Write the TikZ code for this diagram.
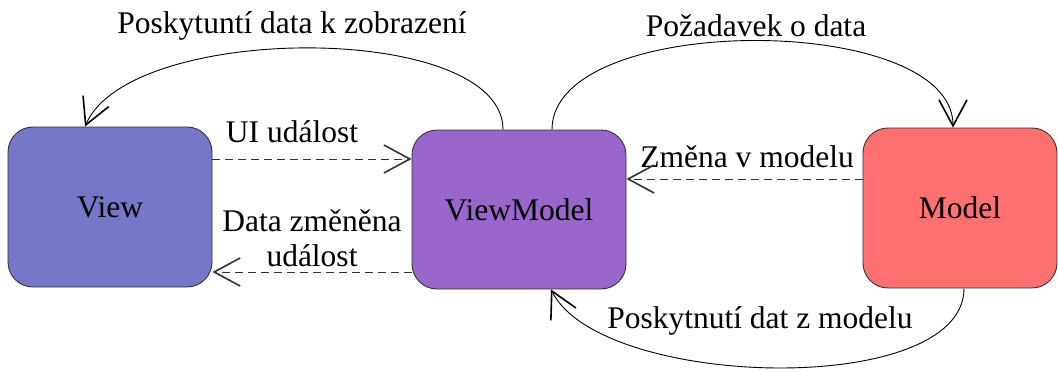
\documentclass[tikz,border=0pt]{standalone}
\usepackage{fontspec}
\setmainfont{Liberation Serif}
\usetikzlibrary{arrows.meta}
\definecolor{viewc}{HTML}{7777C9}
\definecolor{vmc}{HTML}{9966CC}
\definecolor{modelc}{HTML}{FF7171}
\definecolor{edgec}{HTML}{333333}
\begin{document}
\begin{tikzpicture}[x=1pt,y=-1pt,
  box/.style={draw=edgec, line width=0.9pt, rounded corners=25pt, inner sep=0pt,
    font=\fontsize{31.5}{38}\selectfont},
  lbl/.style={inner sep=0pt, font=\fontsize{31.5}{35}\selectfont},
  tip/.style={-{Straight Barb[length=26pt,width=28pt,line width=1.6pt]}},
  curve/.style={tip, line width=0.9pt, black},
  dline/.style={tip, line width=0.9pt, edgec, dash pattern=on 8pt off 5pt}]
\useasboundingbox (0,0) rectangle (1058,372);
\node[box, fill=viewc, minimum width=204pt, minimum height=160pt] (view) at (110,207) {View};
\node[box, fill=vmc, minimum width=214pt, minimum height=159pt] (vm) at (519,209.5) {ViewModel};
\node[box, fill=modelc, minimum width=194pt, minimum height=160pt] (model) at (960,208) {Model};

\node[lbl, anchor=base] (t1) at (292,34) {Poskytuntí data k zobrazení};
\node[lbl, anchor=base] (t2) at (756,36) {Požadavek o data};
\node[lbl, anchor=base] (t3) at (760,328) {Poskytnutí dat z modelu};
\node[lbl, anchor=base] (t4) at (292,142) {UI událost};
\node[lbl, align=center] (t5) at (312,238) {Data změněna\\událost};
\node[lbl, anchor=base] (t6) at (747,167) {Změna v modelu};

\draw[curve] ([xshift=-16pt]vm.north) .. controls +(0,-108) and +(45,-105) .. ([xshift=-25pt]view.north);
\draw[curve] ([xshift=33pt]vm.north) .. controls +(0,-118) and +(0,-116) .. ([xshift=-7pt]model.north);
\draw[curve] ([xshift=4pt]model.south) .. controls +(0,110) and +(50,100) .. ([xshift=32pt]vm.south);

\draw[dline] ([yshift=48pt]view.east) -- ([yshift=50.5pt]vm.west);
\draw[dline] ([yshift=-62.5pt]vm.west) -- ([yshift=-65pt]view.east);
\draw[dline] ([yshift=29pt]model.west) -- ([yshift=30.5pt]vm.east);
\end{tikzpicture}
\end{document}
